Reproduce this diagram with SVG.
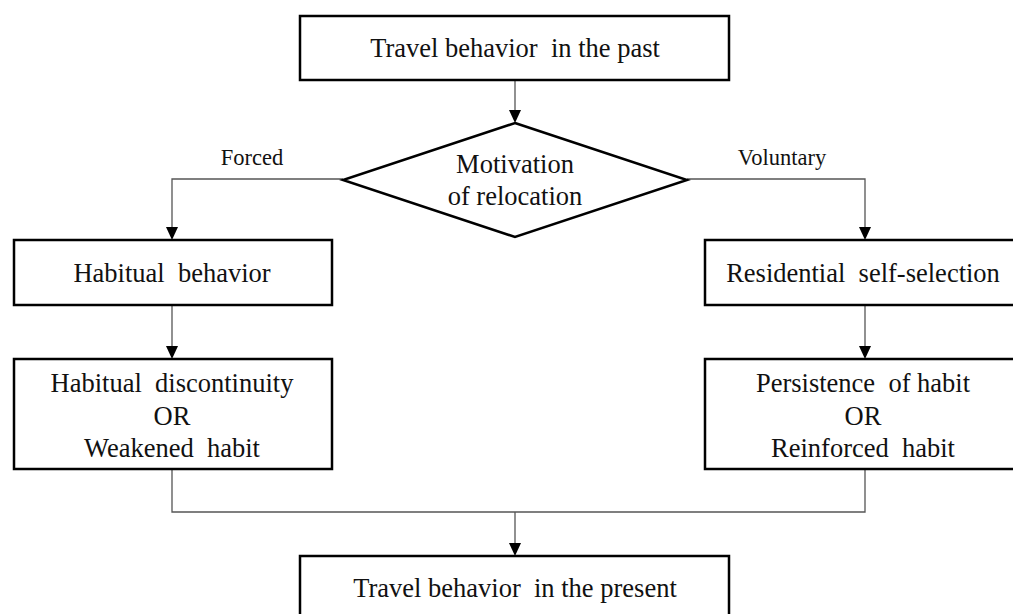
<svg xmlns="http://www.w3.org/2000/svg" width="1013" height="614" viewBox="0 0 1013 614">
<style>
.box{fill:#fff;stroke:#000;stroke-width:2.5}
.t{font-family:"Liberation Serif","Times New Roman",serif;font-size:26.5px;fill:#111;text-anchor:middle;dominant-baseline:central;white-space:pre}
.lbl{font-family:"Liberation Serif","Times New Roman",serif;font-size:22.5px;fill:#111;text-anchor:middle;dominant-baseline:central}
.c{fill:none;stroke:#555;stroke-width:1.3}
</style>
<g id="connectors">
<path class="c" d="M515,80 V110"/>
<path d="M509,110 L521,110 L515,123 Z" fill="#000"/>
<path class="c" d="M343,179 H172 V227"/>
<path d="M166,227 L178,227 L172,240 Z" fill="#000"/>
<path class="c" d="M687,179 H865 V227"/>
<path d="M859,227 L871,227 L865,240 Z" fill="#000"/>
<path class="c" d="M172,305 V346"/>
<path d="M166,346 L178,346 L172,359 Z" fill="#000"/>
<path class="c" d="M865,305 V346"/>
<path d="M859,346 L871,346 L865,359 Z" fill="#000"/>
<path class="c" d="M172,469 V512 H865 V469"/>
<path class="c" d="M515,512 V543"/>
<path d="M509,543 L521,543 L515,556 Z" fill="#000"/>
<text class="lbl" x="252" y="157">Forced</text>
<text class="lbl" x="782" y="157">Voluntary</text>
</g>
<g id="past">
<rect class="box" x="300" y="16" width="429" height="64"/>
<text class="t" x="515" y="48" xml:space="preserve">Travel behavior  in the past</text>
</g>
<g id="motivation">
<polygon class="box" points="515,123 687,180 515,237 343,180"/>
<text class="t" x="515" y="164">Motivation</text>
<text class="t" x="515" y="196">of relocation</text>
</g>
<g id="habitual">
<rect class="box" x="14" y="240" width="318" height="65"/>
<text class="t" x="172" y="273" xml:space="preserve">Habitual  behavior</text>
</g>
<g id="residential">
<rect class="box" x="705" y="240" width="318" height="65"/>
<text class="t" x="863" y="273" xml:space="preserve">Residential  self-selection</text>
</g>
<g id="discontinuity">
<rect class="box" x="14" y="359" width="318" height="110"/>
<text class="t" x="172" y="383" xml:space="preserve">Habitual  discontinuity</text>
<text class="t" x="172" y="416">OR</text>
<text class="t" x="172" y="448" xml:space="preserve">Weakened  habit</text>
</g>
<g id="persistence">
<rect class="box" x="705" y="359" width="318" height="110"/>
<text class="t" x="863" y="383" xml:space="preserve">Persistence  of habit</text>
<text class="t" x="863" y="416">OR</text>
<text class="t" x="863" y="448" xml:space="preserve">Reinforced  habit</text>
</g>
<g id="present">
<rect class="box" x="300" y="556" width="429" height="66"/>
<text class="t" x="515" y="588" xml:space="preserve">Travel behavior  in the present</text>
</g>
</svg>
